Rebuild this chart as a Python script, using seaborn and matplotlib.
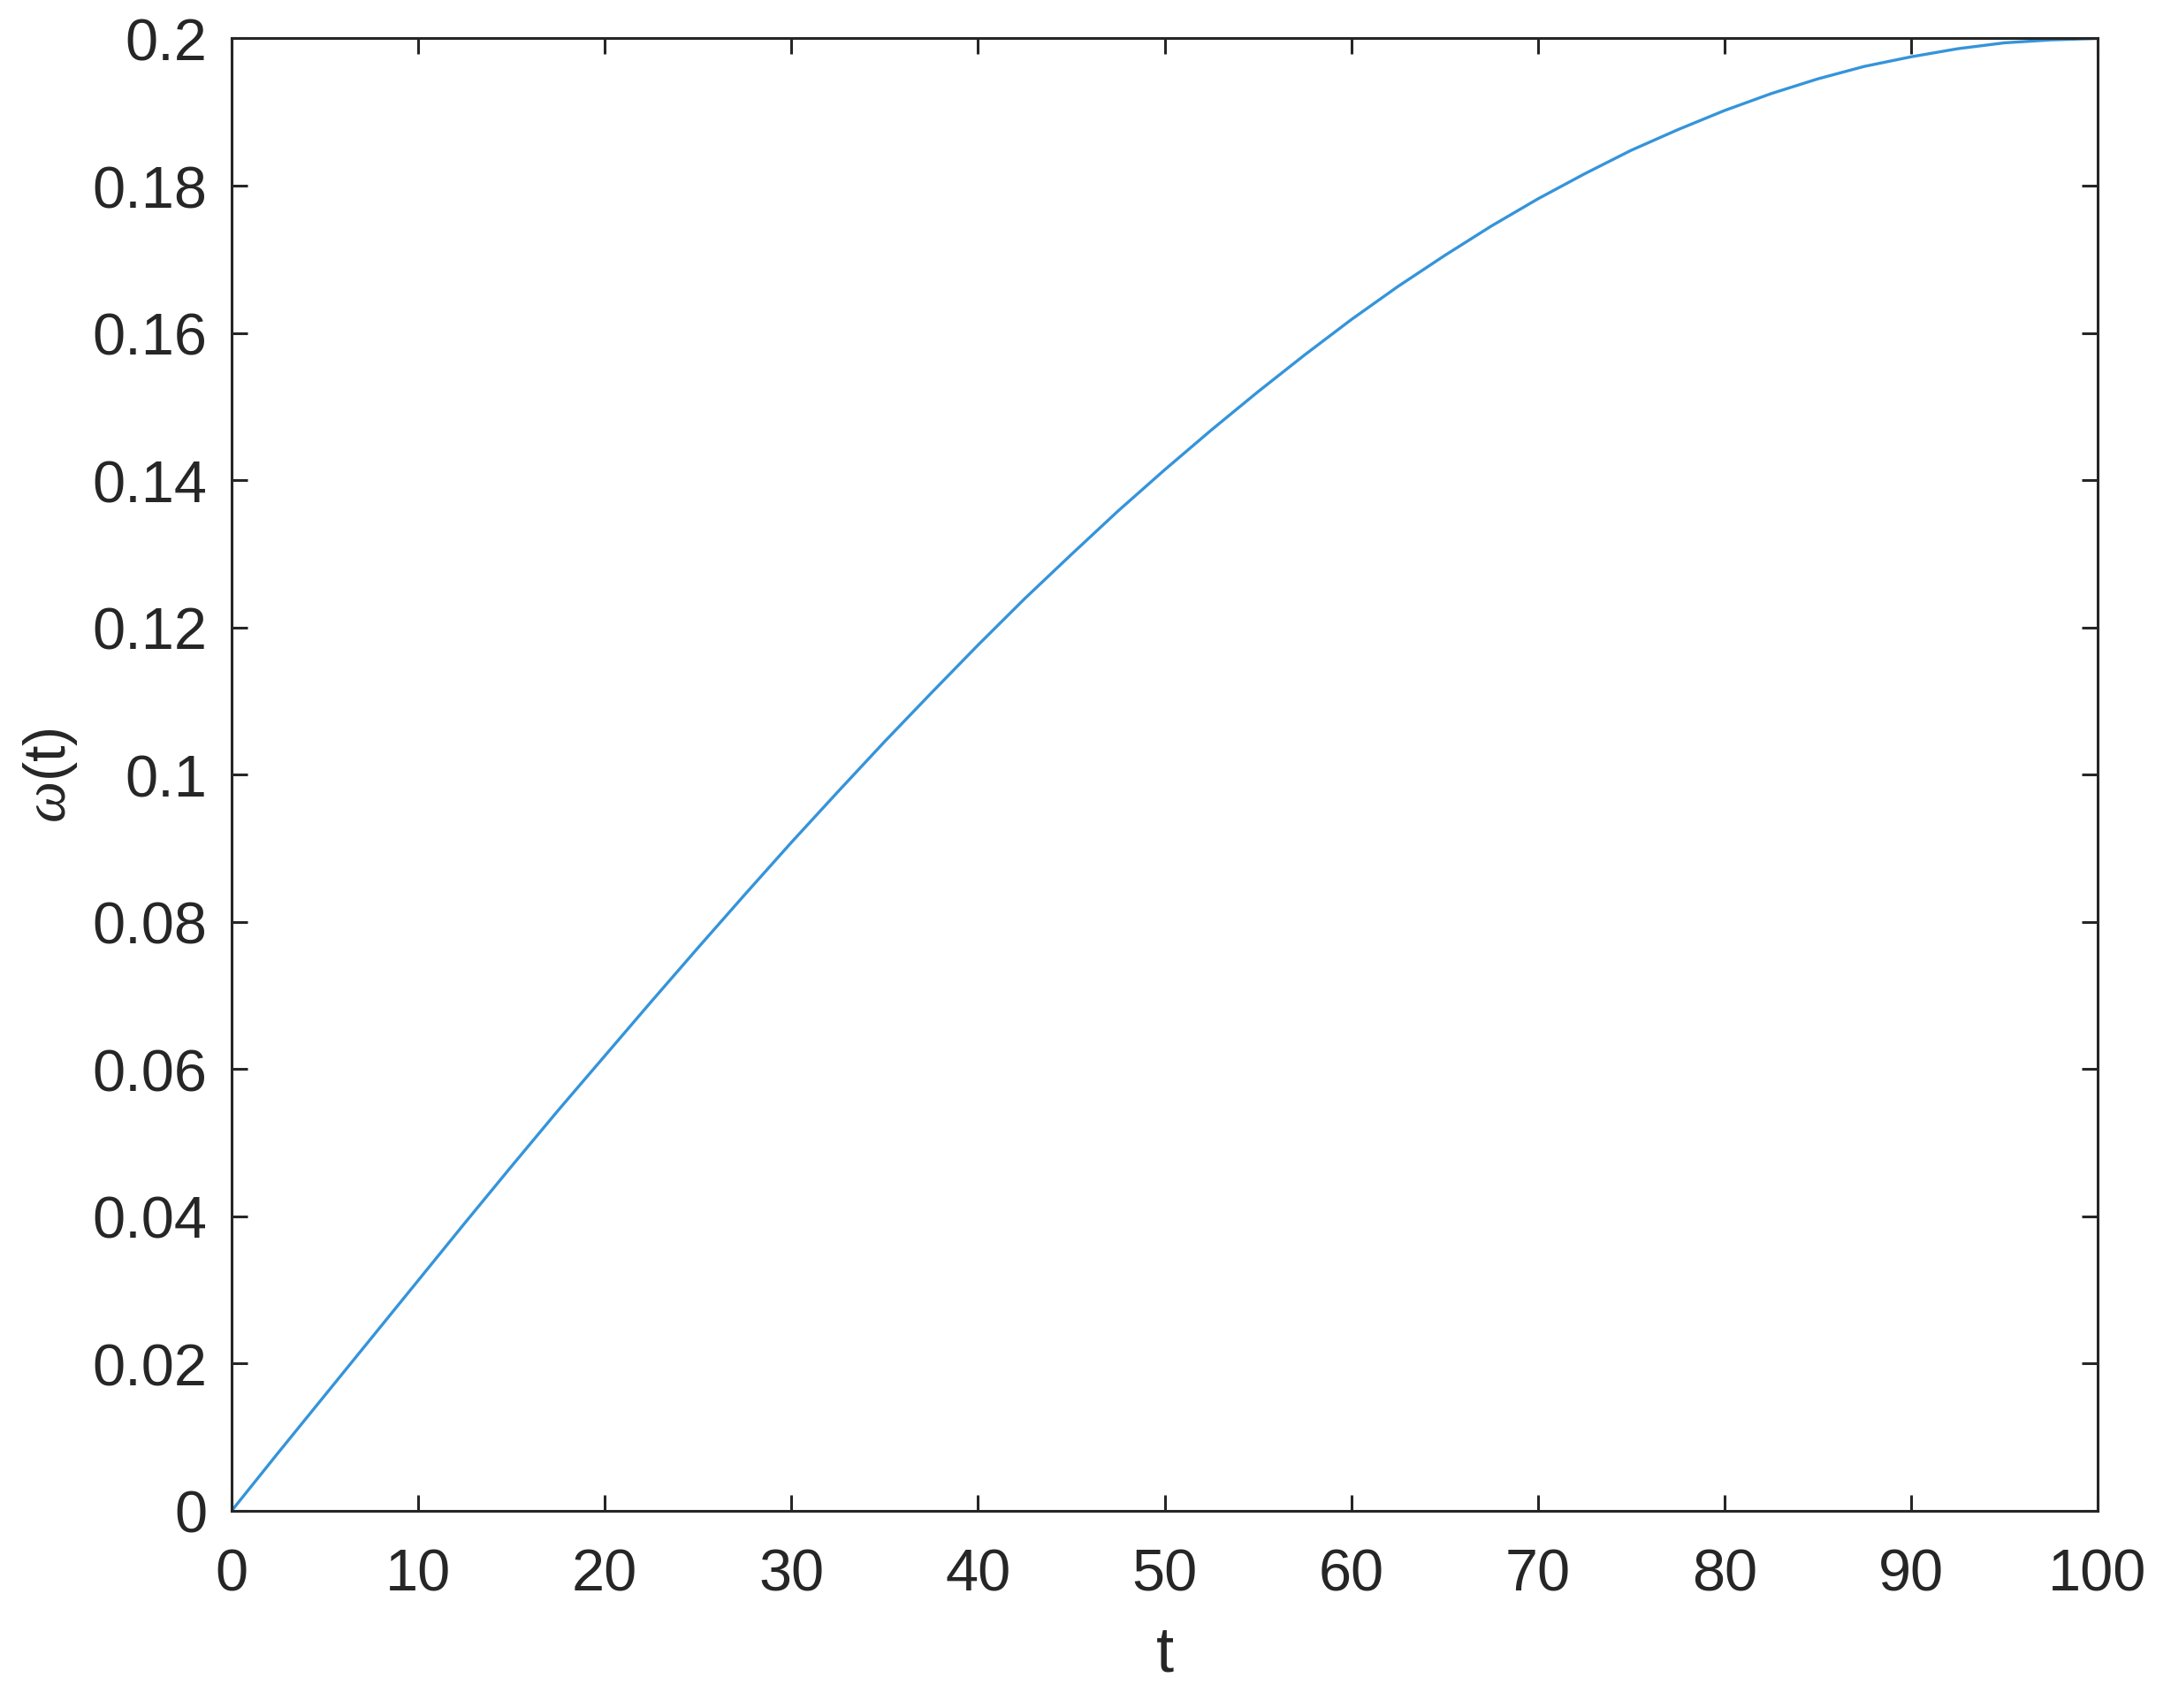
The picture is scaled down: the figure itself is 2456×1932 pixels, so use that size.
import numpy as np
import pandas as pd
import matplotlib
matplotlib.use("Agg")
import matplotlib.pyplot as plt
import seaborn as sns

# values
t_vals = [0, 2.5, 5, 7.5, 10, 12.5, 15, 17.5, 20, 22.5, 25, 27.5, 30, 32.5,
          35, 37.5, 40, 42.5, 45, 47.5, 50, 52.5, 55, 57.5, 60, 62.5, 65,
          67.5, 70, 72.5, 75, 77.5, 80, 82.5, 85, 87.5, 90, 92.5, 95, 97.5, 100]
omega_vals = [0.0, 0.0079, 0.0157, 0.0235, 0.0313, 0.0391, 0.0468, 0.0544,
              0.0618, 0.0692, 0.0765, 0.0837, 0.0908, 0.0977, 0.1045, 0.1111,
              0.1176, 0.1239, 0.1299, 0.1358, 0.1414, 0.1468, 0.1520, 0.1570,
              0.1618, 0.1663, 0.1705, 0.1745, 0.1782, 0.1816, 0.1848, 0.1876,
              0.1902, 0.1925, 0.1945, 0.1962, 0.1975, 0.1986, 0.1994, 0.1998,
              0.2]

x_ticks = list(range(0, 101, 10))
y_ticks = [0, 0.02, 0.04, 0.06, 0.08, 0.1, 0.12, 0.14, 0.16, 0.18, 0.2]
y_tick_labels = ["0", "0.02", "0.04", "0.06", "0.08", "0.1",
                 "0.12", "0.14", "0.16", "0.18", "0.2"]

sns.set_style("white")
plt.rcParams['font.family'] = ['Liberation Sans', 'DejaVu Sans']
plt.rcParams['mathtext.fontset'] = 'custom'
plt.rcParams['mathtext.it'] = 'Liberation Serif:italic'

df = pd.DataFrame({"t": t_vals, "omega": omega_vals})

fig = plt.figure(figsize=(12.28, 9.665), dpi=200)
ax = fig.add_axes([0.1067, 0.1154, 0.8595, 0.8616])

sns.lineplot(data=df, x="t", y="omega", ax=ax, color="#3594da", linewidth=1.2)

ax.set_xlim(0, 100)
ax.set_ylim(0, 0.2)
ax.set_xticks(x_ticks)
ax.set_yticks(y_ticks)
ax.set_yticklabels(y_tick_labels)

edge = "#262626"
for s in ax.spines.values():
    s.set_visible(True)
    s.set_color(edge)
    s.set_linewidth(1.1)

ax.tick_params(axis="both", which="both", direction="in", length=6.5, width=1.1,
               color=edge, labelcolor=edge, labelsize=24,
               top=True, right=True, bottom=True, left=True)
ax.tick_params(axis="x", pad=15)
ax.tick_params(axis="y", pad=10)

ax.set_xlabel("t", fontsize=26, color=edge, labelpad=9)
ax.set_ylabel(r"$\omega$(t)", fontsize=24, color=edge, labelpad=5)

fig.savefig("out.png", dpi=200)
